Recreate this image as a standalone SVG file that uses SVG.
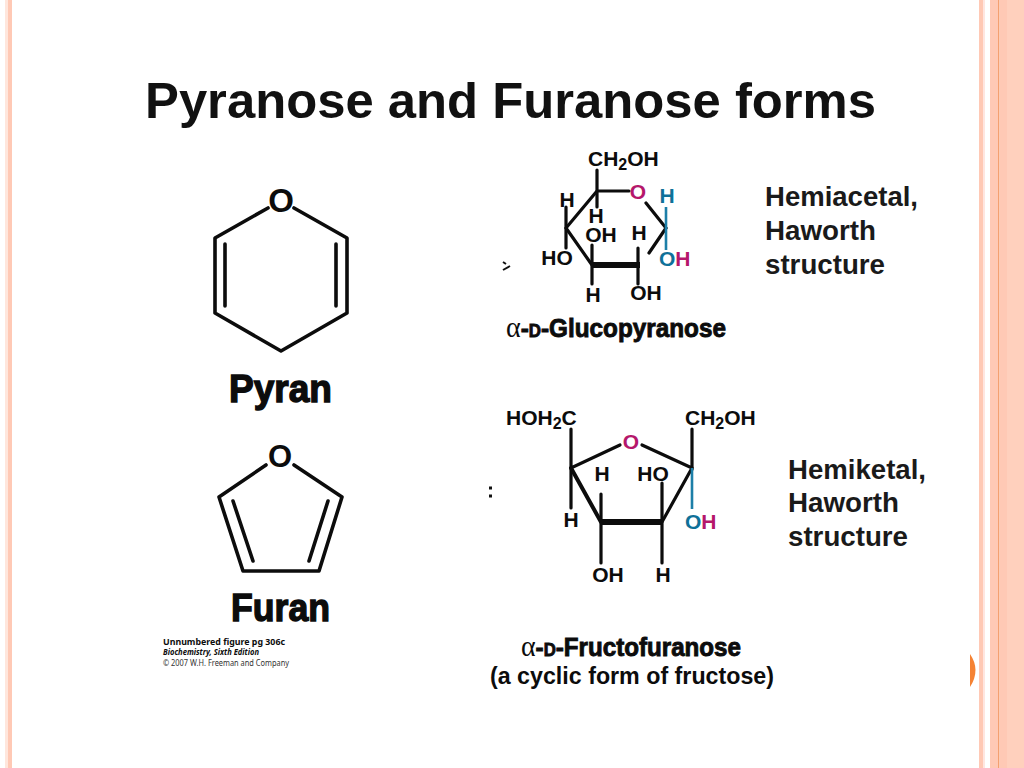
<svg xmlns="http://www.w3.org/2000/svg" width="1024" height="768" viewBox="0 0 1024 768">
<style>
text{font-family:"Liberation Sans",Arial,sans-serif;font-weight:bold;fill:#0c0c0c}
.b{fill:none;stroke:#0c0c0c;stroke-width:3.2;stroke-linecap:round}
.r{fill:none;stroke:#0c0c0c;stroke-width:3.6;stroke-linejoin:round;stroke-linecap:round}
.h{fill:none;stroke:#0c0c0c;stroke-width:6;stroke-linecap:butt}
.bl{fill:none;stroke:#1d7fa8;stroke-width:2.6}
.a{font-size:21px}
.lab{font-size:27px;fill:#1a1a1a}
.hv{stroke:#0c0c0c;stroke-width:1.4;font-size:39px}
.hs{stroke:#0c0c0c;stroke-width:.9;font-size:26px}
.g{font-family:"Liberation Serif",serif;font-weight:normal;stroke-width:0;font-size:30px}
.m{fill:#b5176b}.c{fill:#0f7199}
.sub{font-family:"Noto Sans","Liberation Sans",sans-serif;font-size:9px}
</style>
<rect width="1024" height="768" fill="#fff"/>
<g id="frame">
<rect x="5" y="0" width="3" height="768" fill="#ffe6dc"/>
<rect x="8" y="0" width="4" height="768" fill="#ffc9b5"/>
<rect x="979" y="0" width="4" height="768" fill="#ffc9b5"/>
<rect x="983" y="0" width="2" height="768" fill="#ffe6e0"/>
<rect x="990" y="0" width="8" height="768" fill="#ffc9b5"/>
<rect x="998" y="0" width="1.5" height="768" fill="#f4a070"/>
<rect x="999.5" y="0" width="7.5" height="768" fill="#ffc9b5"/>
<rect x="1007" y="0" width="17" height="768" fill="#ffd0bd"/>
<path d="M970 654Q981 670 970 687Z" fill="#f58233"/>
</g>
<text id="title" x="145" y="118" font-size="50" textLength="731" lengthAdjust="spacingAndGlyphs" style="fill:#111">Pyranose and Furanose forms</text>
<g id="connectors">
<g id="pyran-bonds">
<path class="r" d="M268 208L215 238V313L281 351L347 313V238L294 208"/>
<path class="r" d="M225 244V306M336 244V306"/>
</g>
<g id="furan-bonds">
<path class="r" d="M266 465L219 497L243 571H319L342 497L294 465"/>
<path class="r" d="M233 501L253 561M328 501L309 561"/>
</g>
<g id="glucose-bonds">
<path class="b" d="M597 170V191H629M597 191L566 228L592 265M646 203L666 228L649 253"/>
<path class="h" d="M592 265H640"/>
<path class="b" d="M566 207V228V248M597 191V207M592 265V284M638 265V284M592 265V245M638 265V248"/>
<path class="bl" d="M666 207V250"/>
</g>
<g id="fructose-bonds">
<path class="b" d="M571 429V468L620 445M642 445L692 468V429M571 468V508"/>
<path class="b" d="M601 522V494M662 522V483M601 522V563M662 522V563"/>
<path class="r" style="stroke-width:4" d="M571 468L601 522"/>
<path class="h" d="M600 522H663"/>
<path class="b" d="M692 468L662 522"/>
<path class="bl" d="M692 468V509"/>
</g>
</g>
<g id="pyran">
<text x="281" y="212" font-size="33" text-anchor="middle">O</text>
<text class="hv" x="229" y="402" textLength="103" lengthAdjust="spacingAndGlyphs">Pyran</text>
</g>
<g id="furan">
<text x="280" y="467" font-size="31" text-anchor="middle">O</text>
<text class="hv" x="231" y="621" textLength="99" lengthAdjust="spacingAndGlyphs">Furan</text>
</g>
<g id="credit">
<text class="sub" x="163" y="645" textLength="122" lengthAdjust="spacingAndGlyphs">Unnumbered figure pg 306c</text>
<text class="sub" x="163" y="655" font-style="italic" textLength="96" lengthAdjust="spacingAndGlyphs">Biochemistry, Sixth Edition</text>
<text class="sub" x="163" y="666" style="font-weight:normal;fill:#333" textLength="126" lengthAdjust="spacingAndGlyphs">© 2007 W.H. Freeman and Company</text>
</g>
<g id="glucopyranose">
<text class="a" x="588" y="166">CH<tspan dy="4" font-size="16">2</tspan><tspan dy="-4">OH</tspan></text>
<text class="a m" x="638" y="199" text-anchor="middle">O</text>
<text class="a c" x="667" y="203" text-anchor="middle">H</text>
<text class="a" x="567" y="207" text-anchor="middle">H</text>
<text class="a" x="596" y="223" text-anchor="middle">H</text>
<text class="a" x="601" y="242" text-anchor="middle">OH</text>
<text class="a" x="639" y="240" text-anchor="middle">H</text>
<text class="a" x="557" y="265" text-anchor="middle">HO</text>
<text class="a" x="659" y="266"><tspan class="c">O</tspan><tspan class="m">H</tspan></text>
<text class="a" x="593" y="302" text-anchor="middle">H</text>
<text class="a" x="646" y="300" text-anchor="middle">OH</text>
<text class="hs" x="506" y="337" textLength="220" lengthAdjust="spacingAndGlyphs"><tspan class="g">α</tspan>-<tspan font-size="18">D</tspan>-Glucopyranose</text>
<path d="M503 262l3 2M510 266l-7 4" stroke="#111" stroke-width="2" fill="none"/>
</g>
<g id="fructofuranose">
<text class="a" x="506" y="425">HOH<tspan dy="4" font-size="16">2</tspan><tspan dy="-4">C</tspan></text>
<text class="a" x="685" y="425">CH<tspan dy="4" font-size="16">2</tspan><tspan dy="-4">OH</tspan></text>
<text class="a m" x="631" y="449" text-anchor="middle">O</text>
<text class="a" x="602" y="481" text-anchor="middle">H</text>
<text class="a" x="653" y="481" text-anchor="middle">HO</text>
<text class="a" x="571" y="527" text-anchor="middle">H</text>
<text class="a" x="685" y="529"><tspan class="c">O</tspan><tspan class="m">H</tspan></text>
<text class="a" x="608" y="582" text-anchor="middle">OH</text>
<text class="a" x="663" y="582" text-anchor="middle">H</text>
<text class="hs" x="521" y="656" textLength="220" lengthAdjust="spacingAndGlyphs"><tspan class="g">α</tspan>-<tspan font-size="18">D</tspan>-Fructofuranose</text>
<text x="490" y="684" font-size="23" textLength="284" lengthAdjust="spacingAndGlyphs">(a cyclic form of fructose)</text>
<path d="M489 488h3M489 496h3" stroke="#111" stroke-width="3" fill="none"/>
</g>
<g id="hemiacetal">
<text class="lab" x="765" y="206" textLength="153" lengthAdjust="spacingAndGlyphs">Hemiacetal,</text>
<text class="lab" x="765" y="240" textLength="111" lengthAdjust="spacingAndGlyphs">Haworth</text>
<text class="lab" x="765" y="274" textLength="120" lengthAdjust="spacingAndGlyphs">structure</text>
</g>
<g id="hemiketal">
<text class="lab" x="788" y="479" textLength="138" lengthAdjust="spacingAndGlyphs">Hemiketal,</text>
<text class="lab" x="788" y="512" textLength="111" lengthAdjust="spacingAndGlyphs">Haworth</text>
<text class="lab" x="788" y="546" textLength="120" lengthAdjust="spacingAndGlyphs">structure</text>
</g>
</svg>
